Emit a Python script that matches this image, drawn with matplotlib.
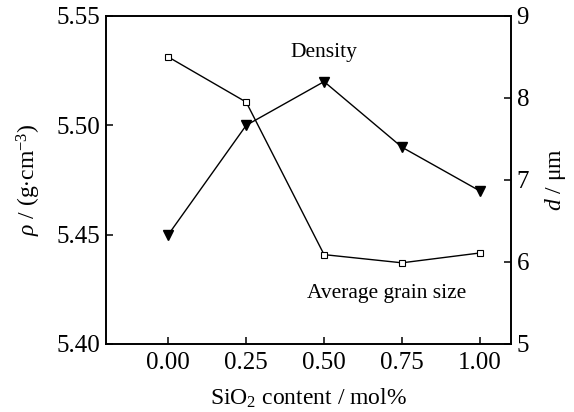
import matplotlib
matplotlib.use('Agg')
import matplotlib.pyplot as plt

plt.rcParams['font.family'] = ['Liberation Serif', 'DejaVu Serif']
plt.rcParams['mathtext.fontset'] = 'custom'
plt.rcParams['mathtext.rm'] = 'Liberation Serif'
plt.rcParams['mathtext.it'] = 'Liberation Serif:italic'

# data
sio2 = [0.00, 0.25, 0.50, 0.75, 1.00]
density = [5.45, 5.50, 5.52, 5.49, 5.47]          # g/cm3, left axis
grain_size = [8.50, 7.95, 6.09, 5.99, 6.11]       # um, right axis
x_ticks = [0.00, 0.25, 0.50, 0.75, 1.00]
left_ticks = [5.40, 5.45, 5.50, 5.55]
right_ticks = [5, 6, 7, 8, 9]

fig = plt.figure(figsize=(5.74, 4.12), dpi=100)
ax = fig.add_axes([106/574, 1-344/412, (511-106)/574, (344-16)/412])
ax2 = ax.twinx()

ax.plot(sio2, density, color='k', lw=1.0, marker='v', ms=7.5, mfc='k', mec='k', zorder=3)
ax2.plot(sio2, grain_size, color='k', lw=1.0, marker='s', ms=5, mfc='white', mec='k',
         mew=0.8, zorder=3)

ax.set_xlim(-0.2, 1.1)
ax.set_ylim(5.40, 5.55)
ax2.set_ylim(5, 9)
ax.set_xticks(x_ticks)
ax.set_xticklabels(['%.2f' % v for v in x_ticks])
ax.set_yticks(left_ticks)
ax.set_yticklabels(['%.2f' % v for v in left_ticks])
ax2.set_yticks(right_ticks)

for a in (ax, ax2):
    for s in a.spines.values():
        s.set_linewidth(1.2)
ax.tick_params(direction='in', length=5, width=1.1, labelsize=18, pad=4)
ax2.tick_params(direction='in', length=5, width=1.1, labelsize=18, pad=4)
ax.tick_params(axis='x', top=False, pad=6)

ax.set_xlabel(r'SiO$_2$ content / mol%', fontsize=17, labelpad=9)
ax.set_ylabel(r'$\it{\rho}$ / (g$\cdot$cm$^{-3}$)', fontsize=17, labelpad=10)
ax2.set_ylabel(r'$\it{d}$ / μm', fontsize=17, labelpad=10)

ax.text(0.50, 5.5335, 'Density', fontsize=15.5, ha='center', va='center')
ax2.text(0.70, 5.62, 'Average grain size', fontsize=15.5, ha='center', va='center')

fig.savefig('out.png', dpi=100)
